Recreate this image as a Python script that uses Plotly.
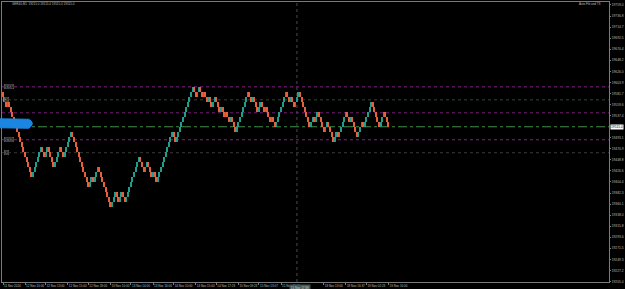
import plotly.graph_objects as go

# ---------------- data ----------------
symbol_title = "GER40,M1  19515.0 19515.0 19515.0 19515.0"
indicator_title = "Auto Fib and TS"
brick_size = 10.0
# renko reversal levels (price at each turning point)
swing_prices = [
    19585, 19555, 19565, 19415, 19475, 19455, 19475, 19435, 19475, 19455,
    19505, 19395, 19415, 19405, 19435, 19415, 19355, 19385, 19365, 19385,
    19365, 19455, 19425, 19445, 19415, 19425, 19405, 19505, 19485, 19595,
    19575, 19595, 19575, 19585, 19565, 19575, 19555, 19575, 19545, 19555,
    19535, 19545, 19525, 19535, 19505, 19585,
    19565, 19575, 19545, 19565, 19545, 19555, 19525, 19535, 19515, 19585,
    19565, 19575, 19555, 19565, 19585, 19515,
    19535, 19525, 19545, 19505, 19525, 19485, 19505, 19495, 19545, 19525,
    19535, 19495, 19525, 19515, 19565, 19515, 19545, 19515,
]
current_price = 19515.0

level_prices = [19595, 19569, 19543, 19489, 19463]
level_labels = ["19597", "R1", "", "19490", "S1"]
level_colors = ["#8a1f8a", "#2c4a30", "#7a1a7a", "#8a1a8a", "#3a3a3a"]

price_ticks = [19759.0, 19736.8, 19714.7, 19692.5, 19670.4, 19648.2, 19626.0,
               19603.9, 19581.7, 19559.6, 19537.4, 19493.1, 19470.9, 19448.8,
               19426.6, 19404.4, 19382.3, 19360.1, 19338.0, 19315.8, 19293.6,
               19271.5, 19249.3, 19227.2, 19205.0]

time_tick_bricks = [0, 14, 27, 41, 54, 68, 81, 95, 108, 122, 135, 149, 162,
                    176, 203, 217, 230, 244]
time_tick_labels = ["11 Nov 2024", "12 Nov 10:00", "12 Nov 13:00", "12 Nov 15:00",
                    "12 Nov 18:00", "13 Nov 10:00", "13 Nov 14:00", "13 Nov 16:00",
                    "14 Nov 10:00", "14 Nov 15:00", "14 Nov 17:23", "15 Nov 09:23",
                    "15 Nov 13:07", "15 Nov 15:46", "18 Nov 13:06", "18 Nov 16:37",
                    "19 Nov 02:23", "19 Nov 10:00"]
crosshair_brick = 186
crosshair_label = "15 Nov 17:39"

# ---------------- build renko bricks ----------------
up_x, up_base, down_x, down_base = [], [], [], []
level = swing_prices[0]
idx = 0
for target in swing_prices[1:]:
    step = brick_size if target > level else -brick_size
    while abs(level - target) > 1e-9:
        o = level
        level = level + step
        if step > 0:
            up_x.append(idx); up_base.append(o)
        else:
            down_x.append(idx); down_base.append(level)
        idx += 1

UP = "#1f9e8e"
DOWN = "#e8603a"
FONT = "Liberation Sans"
TXT = "#bdbdbd"
AX = "#7a7a7a"

fig = go.Figure()
fig.add_trace(go.Bar(x=up_x, y=[brick_size] * len(up_x), base=up_base,
                     marker=dict(color=UP, line=dict(width=0)), width=0.75,
                     hoverinfo="skip", showlegend=False))
fig.add_trace(go.Bar(x=down_x, y=[brick_size] * len(down_x), base=down_base,
                     marker=dict(color=DOWN, line=dict(width=0)), width=0.75,
                     hoverinfo="skip", showlegend=False))

shapes = []
for p, c in zip(level_prices, level_colors):
    shapes.append(dict(type="line", xref="paper", yref="y", x0=0, x1=1, y0=p, y1=p,
                       line=dict(color=c, width=1, dash="dot"), layer="below"))
shapes.append(dict(type="line", xref="paper", yref="y", x0=0, x1=1,
                   y0=current_price, y1=current_price,
                   line=dict(color="#3f8f4a", width=1, dash="dashdot"), layer="below"))
shapes.append(dict(type="line", xref="x", yref="paper", x0=crosshair_brick,
                   x1=crosshair_brick, y0=0, y1=1,
                   line=dict(color="#4a4a4a", width=1, dash="dot"), layer="below"))
shapes.append(dict(type="path", xref="paper", yref="y",
                   path="M -0.004,19531 L 0.044,19530 Q 0.056,19522 0.044,19512 "
                        "L -0.004,19513 Z",
                   fillcolor="#1a86e2", line=dict(color="#1a86e2", width=1)))

annotations = [
    dict(text=symbol_title, xref="paper", yref="paper", x=0.013, y=0.993,
         xanchor="left", yanchor="middle", showarrow=False,
         font=dict(family=FONT, size=3, color=TXT)),
    dict(text=indicator_title, xref="paper", yref="paper", x=0.99, y=0.993,
         xanchor="right", yanchor="middle", showarrow=False,
         font=dict(family=FONT, size=3, color=TXT)),
    dict(text="%.1f" % current_price, xref="paper", yref="y", x=1.002,
         y=current_price, xanchor="left", yanchor="middle", showarrow=False,
         bgcolor="#ffffff", borderpad=0,
         font=dict(family=FONT, size=3.3, color="#000000")),
    dict(text=crosshair_label, xref="x", yref="paper", x=crosshair_brick + 2,
         y=-0.006, xanchor="center", yanchor="top", showarrow=False,
         bgcolor="#3d5757", borderpad=0.8,
         font=dict(family=FONT, size=3, color="#d0d0d0")),
]
for p, t in zip(level_prices, level_labels):
    if t:
        annotations.append(dict(text=t, xref="paper", yref="y", x=0.003, y=p,
                                xanchor="left", yanchor="middle", showarrow=False,
                                bordercolor="#777777", borderwidth=0.5, borderpad=0,
                                bgcolor="#000000",
                                font=dict(family=FONT, size=3, color=TXT)))

fig.update_layout(
    width=625, height=289,
    margin=dict(l=2, r=16, t=2, b=7, autoexpand=False),
    paper_bgcolor="#000000", plot_bgcolor="#000000",
    barmode="overlay", bargap=0,
    shapes=shapes, annotations=annotations,
    showlegend=False,
)
fig.update_xaxes(range=[-0.63, 383.5], showgrid=False, zeroline=False,
                 showline=True, linecolor=AX, linewidth=1, mirror=True,
                 tickmode="array", tickvals=time_tick_bricks, ticktext=time_tick_labels,
                 ticks="outside", ticklen=2, tickcolor=AX, tickangle=0,
                 ticklabelposition="outside right", automargin=False,
                 tickfont=dict(family=FONT, size=3, color=TXT))
fig.update_yaxes(range=[19204, 19765], side="right", showgrid=False, zeroline=False,
                 showline=True, linecolor=AX, linewidth=1, mirror=True,
                 tickmode="array", tickvals=price_ticks,
                 ticktext=["%.1f" % v for v in price_ticks], automargin=False,
                 ticks="outside", ticklen=1, tickcolor=AX,
                 tickfont=dict(family=FONT, size=3.3, color=TXT))

fig.write_html("out.html", config={"displayModeBar": False})
